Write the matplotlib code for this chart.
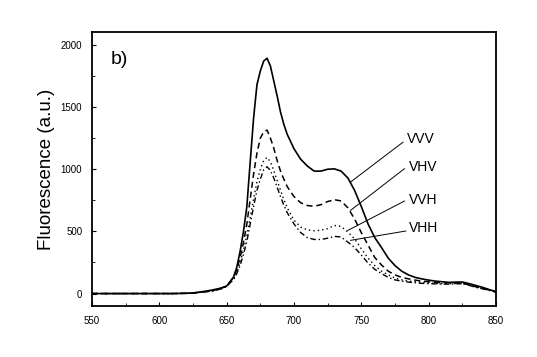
import matplotlib
matplotlib.use("Agg")
import matplotlib.pyplot as plt

plt.rcParams['font.family'] = ['Liberation Sans', 'DejaVu Sans']

wavelength = [550, 600, 610, 620, 625, 630, 635, 640, 645, 650, 655, 657.5, 660, 662.5, 665,
              667.5, 670, 672.5, 675, 677.5, 680, 682.5, 685, 687.5, 690, 692.5, 695, 700,
              705, 710, 715, 720, 725, 730, 735, 740, 745, 750,
              755, 760, 765, 770, 775, 780, 785, 790, 795, 800, 805, 810, 815, 820, 825,
              830, 835, 840, 845, 850]

vvv = [0, 0, 0, 2, 5, 12, 20, 30, 42, 60, 130, 210, 340, 500, 700,
       1060, 1410, 1680, 1790, 1870, 1893, 1830, 1710, 1590, 1460, 1360, 1280, 1165,
       1080, 1025, 985, 985, 1000, 1003, 985, 930, 830, 700,
       560, 450, 370, 285, 225, 180, 150, 130, 118, 108, 100, 95, 90, 92, 93,
       80, 65, 50, 32, 15]

vhv = [0, 0, 0, 2, 4, 10, 16, 25, 38, 60, 130, 190, 290, 410, 560,
       760, 960, 1130, 1250, 1300, 1315, 1250, 1170, 1070, 985, 920, 860, 780,
       730, 708, 702, 715, 740, 755, 745, 690, 600, 490,
       390, 290, 230, 180, 150, 130, 118, 108, 100, 95, 90, 88, 86, 85, 85,
       70, 55, 42, 28, 14]

vvh = [0, 0, 0, 2, 4, 9, 15, 22, 33, 55, 115, 170, 250, 350, 470,
       610, 760, 900, 1000, 1070, 1095, 1060, 990, 910, 830, 755, 690, 590,
       535, 512, 505, 510, 522, 548, 540, 495, 440, 360,
       285, 225, 180, 150, 125, 110, 100, 95, 90, 85, 82, 80, 80, 80, 82,
       68, 52, 40, 26, 12]

vhh = [0, 0, 0, 2, 4, 9, 15, 22, 35, 60, 110, 160, 225, 315, 420,
       560, 700, 830, 920, 995, 1020, 990, 930, 855, 780, 710, 650, 560,
       490, 450, 435, 435, 445, 460, 455, 414, 370, 310,
       245, 195, 160, 130, 110, 100, 92, 87, 82, 80, 78, 76, 76, 78, 80,
       66, 50, 38, 25, 12]

labels = ["VVV", "VHV", "VVH", "VHH"]
label_pos = [(784, 1247), (785, 1022), (785, 750), (785, 524)]
pointer_start = [(781, 1218), (782, 1004), (782, 744), (783, 503)]
pointer_end = [(742, 897), (742, 669), (740, 508), (742, 428)]

x_ticks = [550, 600, 650, 700, 750, 800, 850]
y_ticks = [0, 500, 1000, 1500, 2000]

fig = plt.figure(figsize=(5.37, 3.57), dpi=100)
ax = fig.add_axes([0.1713, 0.1429, 0.7523, 0.7661])

ax.plot(wavelength, vvv, color='black', lw=1.2, linestyle='-')
ax.plot(wavelength, vhv, color='black', lw=1.1, linestyle=(0, (4, 2.5)))
ax.plot(wavelength, vvh, color='black', lw=1.0, linestyle=(0, (1, 2.2)))
ax.plot(wavelength, vhh, color='black', lw=1.0, linestyle=(0, (4, 2, 1, 2)))

for lab, (tx, ty), (sx, sy), (ex, ey) in zip(labels, label_pos, pointer_start, pointer_end):
    ax.plot([sx, ex], [sy, ey], color='black', lw=0.7)
    ax.text(tx, ty, lab, fontsize=10, ha='left', va='center')

ax.text(564, 1850, "b)", fontsize=14, ha='left', va='baseline')

ax.set_xlim(550, 850)
ax.set_ylim(-100, 2100)
ax.set_xticks(x_ticks)
ax.set_yticks(y_ticks)
ax.set_xticks(range(575, 850, 50), minor=True)
ax.set_yticks(range(250, 2000, 500), minor=True)
ax.tick_params(direction='in', length=3, width=0.8, labelsize=7, pad=7)
ax.tick_params(which='minor', direction='in', length=2, width=0.6)
for s in ax.spines.values():
    s.set_linewidth(1.3)

ax.set_ylabel("Fluorescence (a.u.)", fontsize=13.5, labelpad=4)

fig.savefig("out.png", dpi=100)
